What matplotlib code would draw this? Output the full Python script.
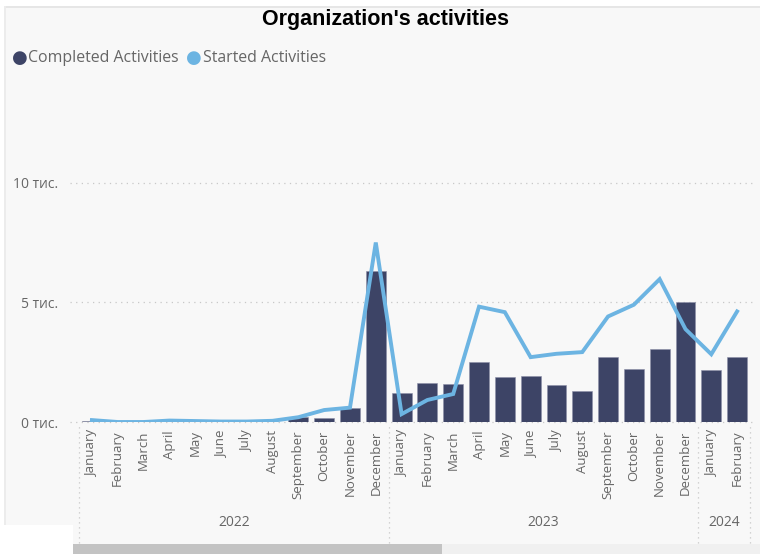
import matplotlib
matplotlib.use("Agg")
import matplotlib.pyplot as plt
from matplotlib.patches import Rectangle
from matplotlib.lines import Line2D
import matplotlib.transforms as mtransforms

# data (values in activities)
months = ['January', 'February', 'March', 'April', 'May', 'June', 'July', 'August',
          'September', 'October', 'November', 'December',
          'January', 'February', 'March', 'April', 'May', 'June', 'July', 'August',
          'September', 'October', 'November', 'December',
          'January', 'February']
years = ['2022', '2023', '2024']
year_counts = [12, 12, 2]
completed = [30, 5, 5, 5, 5, 5, 5, 20, 200, 160, 570, 6290,
             1230, 1620, 1580, 2520, 1870, 1910, 1560, 1310, 2720, 2220, 3050, 5020,
             2180, 2710]
started = [80, 0, 0, 60, 40, 20, 20, 50, 200, 500, 600, 7500,
           330, 920, 1170, 4820, 4590, 2710, 2850, 2920, 4410, 4900, 5970, 3880,
           2830, 4620]
y_ticks = [0, 5000, 10000]
y_labels = ['0 тис.', '5 тис.', '10 тис.']

bar_color = '#3d4466'
line_color = '#6cb4e2'
text_grey = '#666666'
plt.rcParams['font.family'] = ['Open Sans', 'DejaVu Sans']

W, H = 760, 555
fig = plt.figure(figsize=(W / 100, H / 100), dpi=100)
fig.patch.set_facecolor('white')

def px(x, y, w, h):
    # pixel box (top-left origin) -> figure fraction rect
    return (x / W, 1 - (y + h) / H, w / W, h / H)

# panel background, borders, scrollbar
for (x, y, w, h, c) in [(4, 6, 756, 519, '#f8f8f8'), (73, 520, 687, 24, '#f8f8f8'),
                        (4, 6, 756, 1.5, '#e6e6e6'), (4, 6, 1.5, 519, '#ececec'),
                        (73, 544, 687, 10, '#f0f0f0'), (73, 544, 369, 10, '#c3c3c3')]:
    x0, y0, ww, hh = px(x, y, w, h)
    fig.add_artist(Rectangle((x0, y0), ww, hh, transform=fig.transFigure,
                             facecolor=c, edgecolor='none', zorder=0))

ax = fig.add_axes([79 / W, 1 - 422 / H, 671 / W, (422 - 75) / H])
ax.set_facecolor('none')
x = list(range(len(months)))
ax.bar(x, completed, width=0.77, color=bar_color, edgecolor='#8c90a8', linewidth=0.4, zorder=2)
ax.plot(x, started, color=line_color, linewidth=2.8, zorder=3, solid_joinstyle='miter')
ax.set_xlim(-0.5, len(months) - 0.5)
ax.set_ylim(0, 14500)

for s in ax.spines.values():
    s.set_visible(False)
for t in y_ticks:
    ax.axhline(t, xmin=-9 / 671, xmax=1 + 5 / 671, color='#c8c8c8', linewidth=0.9,
               linestyle=(0, (1, 3.5)), clip_on=False, zorder=1)

ax.set_yticks(y_ticks)
ax.set_yticklabels(y_labels)
ax.tick_params(axis='y', length=0, pad=15, labelsize=10, labelcolor=text_grey)
ax.set_xticks(x)
ax.set_xticklabels(months, rotation=90)
ax.tick_params(axis='x', length=0, pad=6, labelsize=9.5, labelcolor=text_grey)

# year grouping row with dotted separators
trans = mtransforms.blended_transform_factory(ax.transData, fig.transFigure)
y_top, y_bot = 1 - 425 / H, 1 - 543 / H
edges = [-0.5]
for n in year_counts:
    edges.append(edges[-1] + n)
for e in edges:
    fig.add_artist(Line2D([e, e], [y_bot, y_top], transform=trans, color='#c8c8c8',
                          linewidth=0.9, linestyle=(0, (1, 3))))
for i, yr in enumerate(years):
    fig.text((edges[i] + edges[i + 1]) / 2, 1 - 522 / H, yr, transform=trans,
             ha='center', va='center', fontsize=10, color=text_grey)

# title and legend
fig.text(385 / W, 1 - 20 / H, "Organization's activities", ha='center', va='center',
         fontsize=15.5, fontweight='bold', family=['Liberation Sans', 'DejaVu Sans'], color='black')
fig.text(20 / W, 1 - 58 / H, '●', ha='center', va='center', fontsize=13, color=bar_color,
         family='DejaVu Sans')
fig.text(28 / W, 1 - 58 / H, 'Completed Activities', ha='left', va='center', fontsize=11.4,
         color=text_grey)
fig.text(194 / W, 1 - 58 / H, '●', ha='center', va='center', fontsize=13, color=line_color,
         family='DejaVu Sans')
fig.text(203 / W, 1 - 58 / H, 'Started Activities', ha='left', va='center', fontsize=11.4,
         color=text_grey)

fig.savefig('out.png', dpi=100)
